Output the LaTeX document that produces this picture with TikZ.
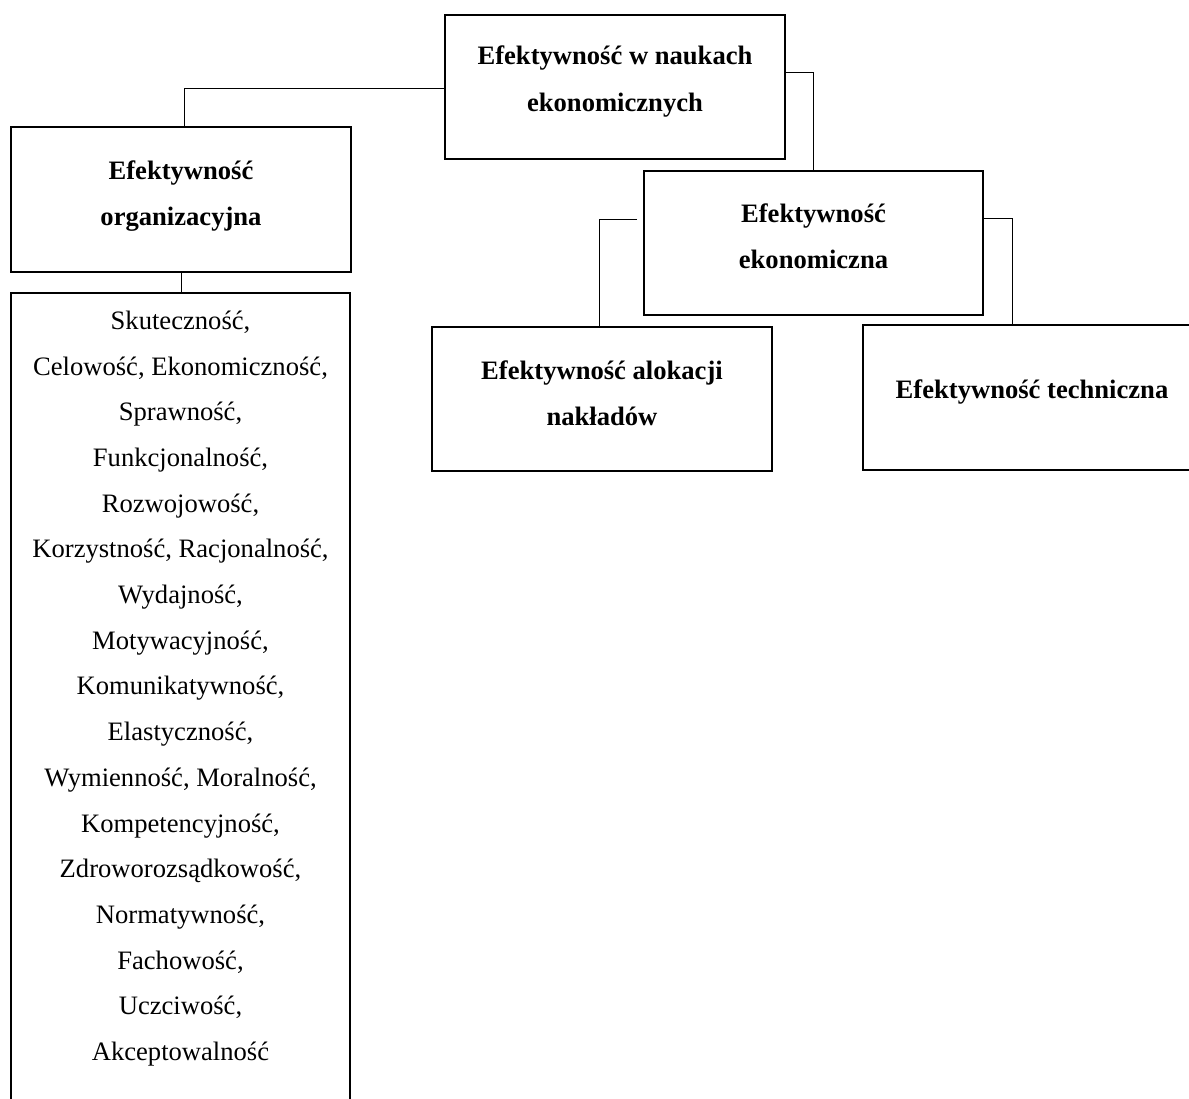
\documentclass[tikz,border=0pt]{standalone}
\usepackage{fontspec}
\setmainfont{Liberation Serif}
\tikzset{
  box/.style={draw, line width=2.4pt, rectangle, inner sep=0pt, outer sep=0pt, anchor=north west},
  head/.style={font=\fontsize{26.6}{46}\selectfont\bfseries, anchor=base, inner sep=0pt},
  item/.style={font=\fontsize{26.6}{46}\selectfont, anchor=base, inner sep=0pt},
  link/.style={line width=1pt}
}
\begin{document}
\begin{tikzpicture}[x=1pt,y=-1pt]
\useasboundingbox (0,0) rectangle (1189,1099);
\clip (0,0) rectangle (1189,1099);

% boxes
\node[box, minimum width=340pt, minimum height=144pt] (top)   at (445,15)  {};
\node[box, minimum width=340pt, minimum height=145pt] (org)   at (11,127)  {};
\node[box, minimum width=339pt, minimum height=850pt] (list)  at (11,293)  {};
\node[box, minimum width=339pt, minimum height=144pt] (econ)  at (644,171) {};
\node[box, minimum width=340pt, minimum height=144pt] (alloc) at (432,327) {};
\node[box, minimum width=338pt, minimum height=145pt] (tech)  at (863,325) {};

% headings
\node[head] (topA)   at (615,65)    {Efektywność w naukach};
\node[head] (topB)   at (615,111.5) {ekonomicznych};
\node[head] (orgA)   at (181,180)   {Efektywność};
\node[head] (orgB)   at (181,226)   {organizacyjna};
\node[head] (econA)  at (813.5,222.5) {Efektywność};
\node[head] (econB)  at (813.5,268.5) {ekonomiczna};
\node[head] (allocA) at (602,379)   {Efektywność alokacji};
\node[head] (allocB) at (602,425)   {nakładów};
\node[head] (techA)  at (1032,398)  {Efektywność techniczna};

% list of features
\foreach \t [count=\i from 0] in {Skuteczność{,},
  Celowość{,} Ekonomiczność{,},
  Sprawność{,},
  Funkcjonalność{,},
  Rozwojowość{,},
  Korzystność{,} Racjonalność{,},
  Wydajność{,},
  Motywacyjność{,},
  Komunikatywność{,},
  Elastyczność{,},
  Wymienność{,} Moralność{,},
  Kompetencyjność{,},
  Zdroworozsądkowość{,},
  Normatywność{,},
  Fachowość{,},
  Uczciwość{,},
  Akceptowalność}
  \node[item] (item\i) at (180.5,329.3+45.7*\i) {\t};

% connectors
\draw[link] ([yshift=-2pt]top.west) -| ([xshift=3pt]org.north);
\draw[link] (org.south) -- (org.south |- list.north);
\draw[link] ([yshift=14.5pt]top.east) -| (econ.north);
\draw[link] ([xshift=-7pt,yshift=23pt]econ.west) -| ([xshift=-3pt]alloc.north);
\draw[link] ([yshift=24pt]econ.east) -| ([xshift=-20pt]tech.north);
\end{tikzpicture}
\end{document}
